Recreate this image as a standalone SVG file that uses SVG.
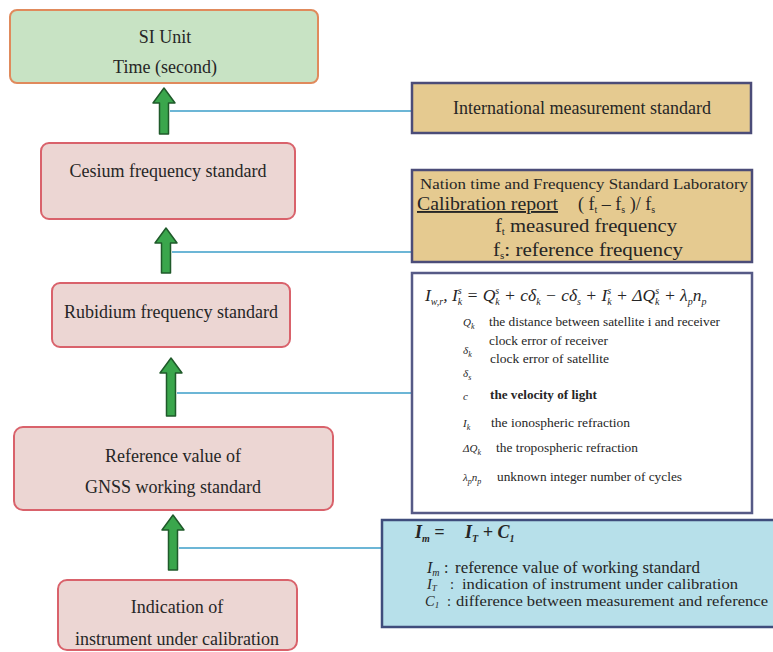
<svg xmlns="http://www.w3.org/2000/svg" width="773" height="652" viewBox="0 0 773 652">
<style>
  text { font-family: "Liberation Serif", "Times New Roman", serif; fill: #262626; }
  .n { font-size: 18px; text-anchor: middle; }
  .green { fill: #c8e3c4; stroke: #e08a5c; stroke-width: 2; }
  .pink { fill: #ecd6d3; stroke: #d9626b; stroke-width: 2; }
  .tan { fill: #e5ca90; stroke: #4b4c78; stroke-width: 2.5; }
  .white { fill: #ffffff; stroke: #565a86; stroke-width: 2.5; }
  .blue { fill: #b7e0ea; stroke: #3f4d7c; stroke-width: 2.5; }
  .link { stroke: #6cb6d6; stroke-width: 2; fill: none; }
  .arr { fill: #3aa64c; stroke: #1f5a2a; stroke-width: 1.5; stroke-linejoin: round; }
  .mi { font-style: italic; }
  .sm { font-size: 13.5px; }
  .sym { font-size: 11px; font-style: italic; }
  .sb { font-size: 10px; }
</style>
<rect width="773" height="652" fill="#ffffff"/>

<g id="connectors">
  <line class="link" x1="170" y1="111" x2="412" y2="111"/>
  <line class="link" x1="172" y1="252" x2="412" y2="252"/>
  <line class="link" x1="177" y1="393" x2="412" y2="393"/>
  <line class="link" x1="179" y1="548" x2="382" y2="548"/>
  <path class="arr" d="M164,88 L175,103 L168.5,103 L168.5,134 L159.5,134 L159.5,103 L153,103 Z"/>
  <path class="arr" d="M166,228 L177,243 L170.5,243 L170.5,273 L161.5,273 L161.5,243 L155,243 Z"/>
  <path class="arr" d="M171,358 L182,373 L175.5,373 L175.5,416 L166.5,416 L166.5,373 L160,373 Z"/>
  <path class="arr" d="M173,515 L184,530 L177.5,530 L177.5,570 L168.5,570 L168.5,530 L162,530 Z"/>
</g>

<g id="si-unit">
  <rect class="green" x="10" y="10" width="308" height="73" rx="7"/>
  <text class="n" x="165" y="43">SI Unit</text>
  <text class="n" x="165" y="73">Time (second)</text>
</g>

<g id="cesium">
  <rect class="pink" x="41" y="143" width="254" height="76" rx="8"/>
  <text class="n" x="168" y="177">Cesium frequency standard</text>
</g>

<g id="rubidium">
  <rect class="pink" x="52" y="283" width="238" height="64" rx="8"/>
  <text class="n" x="171" y="318">Rubidium frequency standard</text>
</g>

<g id="gnss">
  <rect class="pink" x="14" y="427" width="319" height="83" rx="9"/>
  <text class="n" x="173" y="462">Reference value of</text>
  <text class="n" x="173" y="493">GNSS working standard</text>
</g>

<g id="instrument">
  <rect class="pink" x="58" y="580" width="239" height="70" rx="9"/>
  <text class="n" x="177" y="613">Indication of</text>
  <text class="n" x="177" y="645">instrument under calibration</text>
</g>

<g id="international">
  <rect class="tan" x="412" y="83" width="339" height="50"/>
  <text class="n" x="582" y="114">International measurement standard</text>
</g>

<g id="calibration">
  <rect class="tan" x="412" y="170" width="340" height="92"/>
  <text x="420" y="189" font-size="15" textLength="328" lengthAdjust="spacingAndGlyphs">Nation time and Frequency Standard Laboratory</text>
  <text x="417" y="210" font-size="19" text-decoration="underline" textLength="141" lengthAdjust="spacingAndGlyphs">Calibration report</text>
  <text x="578" y="210" font-size="18">( f<tspan class="sb" dy="3">t</tspan><tspan dy="-3"> – f</tspan><tspan class="sb" dy="3">s</tspan><tspan dy="-3"> )/ f</tspan><tspan class="sb" dy="3">s</tspan></text>
  <text x="495" y="232" font-size="19" textLength="182" lengthAdjust="spacingAndGlyphs">f<tspan class="sb" dy="3">t</tspan><tspan dy="-3">  measured frequency</tspan></text>
  <text x="493" y="256" font-size="19" textLength="190" lengthAdjust="spacingAndGlyphs">f<tspan class="sb" dy="3">s</tspan><tspan dy="-3">: reference frequency</tspan></text>
</g>

<g id="gnss-equation">
  <rect class="white" x="412" y="273" width="340" height="240"/>
  <text class="mi" x="425" y="301" font-size="17.5">I<tspan class="sb" dy="4">w,r</tspan><tspan dy="-4">, I</tspan><tspan class="sb" dy="-7">s</tspan><tspan class="sb" dx="-4" dy="11">k</tspan><tspan dy="-4"> = Q</tspan><tspan class="sb" dy="-7">s</tspan><tspan class="sb" dx="-4" dy="11">k</tspan><tspan dy="-4"> + cδ</tspan><tspan class="sb" dy="4">k</tspan><tspan dy="-4"> − cδ</tspan><tspan class="sb" dy="4">s</tspan><tspan dy="-4"> + I</tspan><tspan class="sb" dy="-7">s</tspan><tspan class="sb" dx="-4" dy="11">k</tspan><tspan dy="-4"> + ΔQ</tspan><tspan class="sb" dy="-7">s</tspan><tspan class="sb" dx="-4" dy="11">k</tspan><tspan dy="-4"> + λ</tspan><tspan class="sb" dy="4">p</tspan><tspan dy="-4">n</tspan><tspan class="sb" dy="4">p</tspan></text>
  <text class="sym" x="463" y="326">Q<tspan font-size="8" dy="3">k</tspan></text>
  <text class="sm" x="489" y="326" textLength="231" lengthAdjust="spacingAndGlyphs">the distance between satellite i and receiver</text>
  <text class="sm" x="489" y="345" textLength="119" lengthAdjust="spacingAndGlyphs">clock error of receiver</text>
  <text class="sym" x="463" y="354">δ<tspan font-size="8" dy="3">k</tspan></text>
  <text class="sm" x="490" y="363" textLength="119" lengthAdjust="spacingAndGlyphs">clock error of satellite</text>
  <text class="sym" x="463" y="377">δ<tspan font-size="8" dy="3">s</tspan></text>
  <text class="sym" x="463" y="400">c</text>
  <text class="sm" x="490" y="399" textLength="107" lengthAdjust="spacingAndGlyphs" font-weight="bold">the velocity of light</text>
  <text class="sym" x="463" y="427">I<tspan font-size="8" dy="3">k</tspan></text>
  <text class="sm" x="491" y="427" textLength="139" lengthAdjust="spacingAndGlyphs">the ionospheric refraction</text>
  <text class="sym" x="463" y="452">ΔQ<tspan font-size="8" dy="3">k</tspan></text>
  <text class="sm" x="496" y="452" textLength="142" lengthAdjust="spacingAndGlyphs">the tropospheric refraction</text>
  <text class="sym" x="463" y="481">λ<tspan font-size="8" dy="3">p</tspan><tspan dy="-3">n</tspan><tspan font-size="8" dy="3">p</tspan></text>
  <text class="sm" x="497" y="481" textLength="185" lengthAdjust="spacingAndGlyphs">unknown integer number of cycles</text>
</g>

<g id="working-standard-equation">
  <rect class="blue" x="382" y="520" width="400" height="107"/>
  <text x="415" y="538" font-size="18" font-weight="bold" font-style="italic">I<tspan class="sb" dy="4">m</tspan><tspan dy="-4"> =</tspan></text>
  <text x="465" y="538" font-size="18" font-weight="bold" font-style="italic">I<tspan class="sb" dy="4">T</tspan><tspan dy="-4"> + C</tspan><tspan class="sb" dy="4">1</tspan></text>
  <text x="427" y="573" font-size="16" font-style="italic">I<tspan class="sb" dy="3">m</tspan></text>
  <text x="444" y="573" font-size="16">:</text>
  <text x="455" y="573" font-size="16" textLength="245" lengthAdjust="spacingAndGlyphs">reference value of working standard</text>
  <text x="427" y="589" font-size="14.5" font-style="italic">I<tspan font-size="9" dy="2">T</tspan></text>
  <text x="450" y="589" font-size="14.5">:</text>
  <text x="462" y="589" font-size="14.5" textLength="276" lengthAdjust="spacingAndGlyphs">indication of instrument under calibration</text>
  <text x="425" y="606" font-size="14.5" font-style="italic">C<tspan font-size="9" dy="2">1</tspan></text>
  <text x="447" y="606" font-size="14.5">:</text>
  <text x="456" y="606" font-size="14.5" textLength="312" lengthAdjust="spacingAndGlyphs">difference between measurement and reference</text>
</g>
</svg>
